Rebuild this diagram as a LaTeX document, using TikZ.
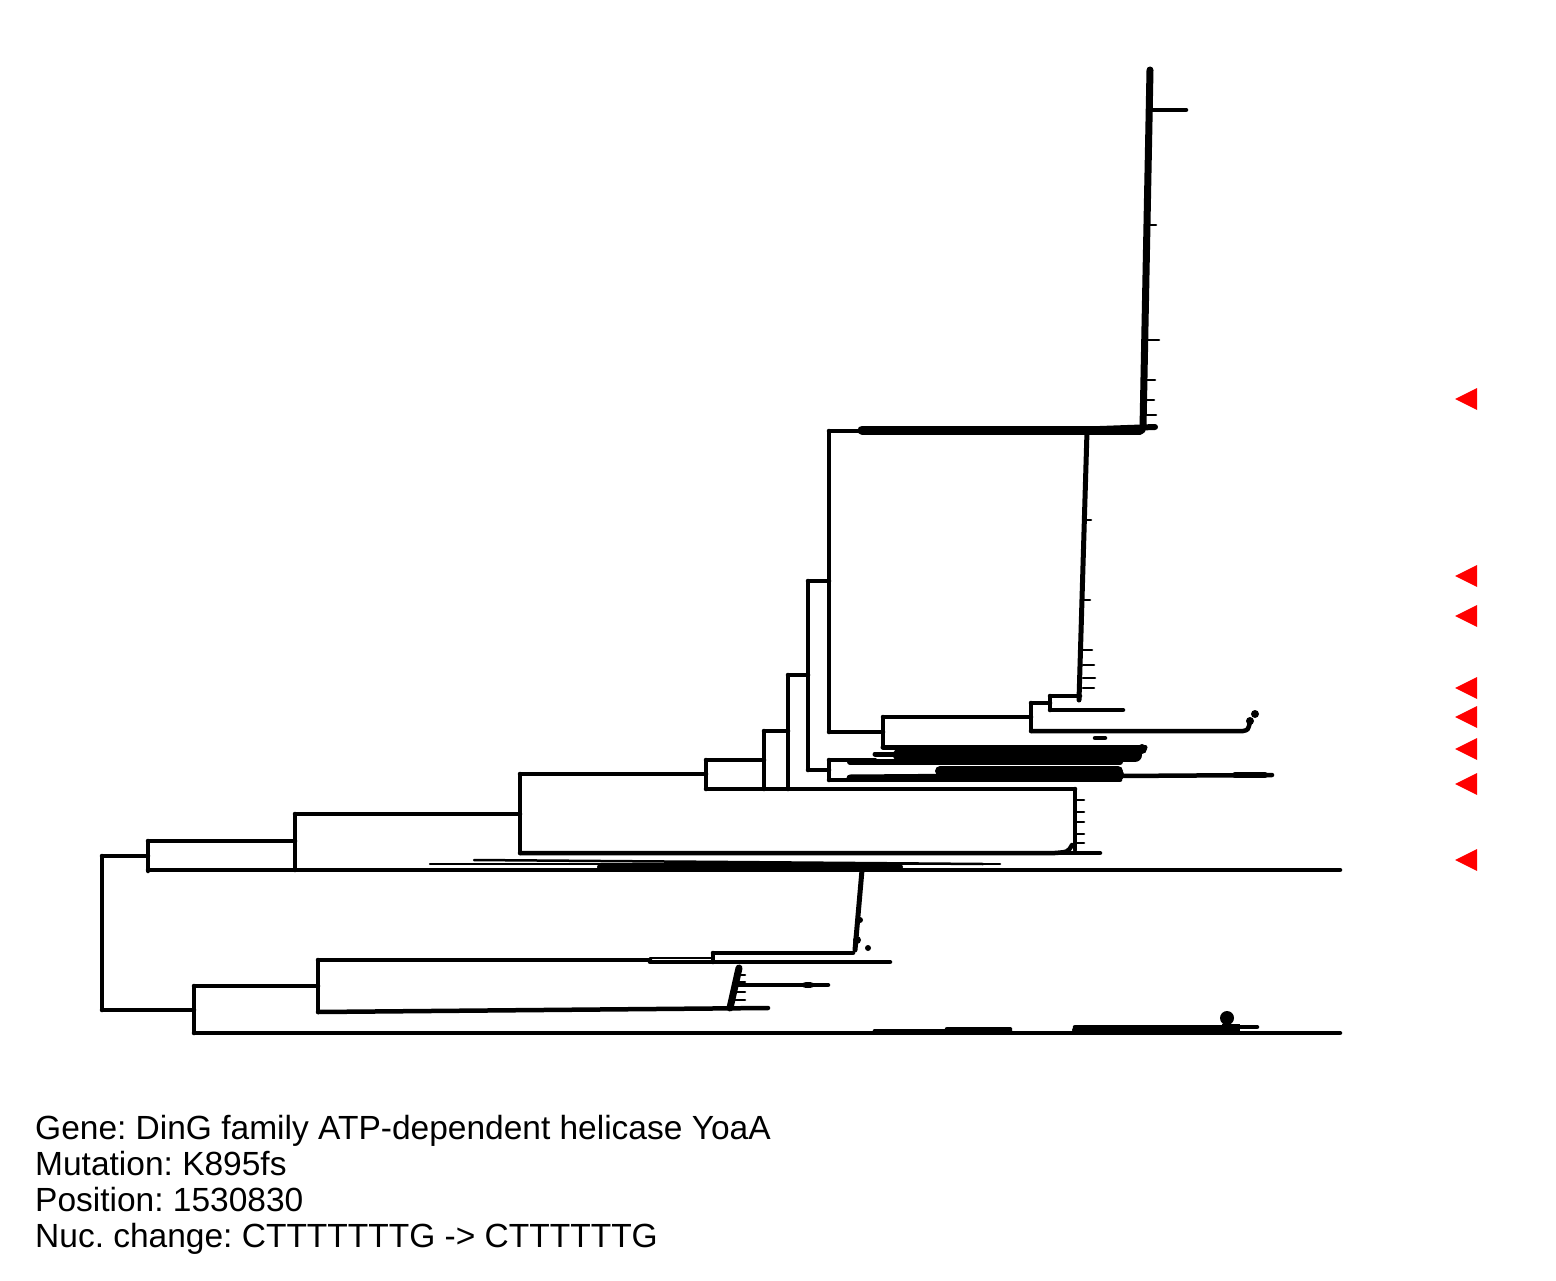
\documentclass[tikz,border=0pt]{standalone}
\usepackage{fontspec}
\setmainfont{Liberation Sans}
\frenchspacing
\begin{document}
\begin{tikzpicture}[x=1pt,y=-1pt,
  br/.style={line width=4.5pt,line cap=round,line join=miter},
  thin br/.style={line width=2.5pt,line cap=round},
  bundle/.style={line width=#1,line cap=round},
  mark tri/.style={fill=red,draw=none},
  info/.style={anchor=base west,inner sep=0pt,font=\fontsize{33.5}{36}\selectfont}]
\useasboundingbox (0,0) rectangle (1556,1281);
% ---------- upper clade ----------
\draw[br] (102,856) -- (102,1010);
\draw[br] (102,856) -- (148,856);
\draw[br] (148,841) -- (148,871);
\draw[br] (148,841) -- (295,841);
\draw[br] (295,814) -- (295,870);
\draw[br] (148,870) -- (1340,870);
\draw[thin br] (430,864) -- (1000,864);
\draw[thin br] (474,860) -- (983,864);
\draw[bundle=6pt] (600,867) -- (900,867);
\draw[br] (295,814) -- (520,814);
\draw[br] (520,774) -- (520,853);
\draw[br] (520,853) -- (1055,853) .. controls (1068,852) .. (1072,845);
\draw[br] (1055,853) -- (1100,853);
\draw[br] (520,774) -- (706,774);
\draw[br] (706,760) -- (706,789);
\draw[br] (706,789) -- (1075,789);
\draw[br] (1075,789) -- (1075,850);
\foreach \yy in {800,812,822,834,843} \draw[thin br] (1075,\yy) -- (1084,\yy);
\draw[br] (706,760) -- (764,760);
\draw[br] (764,731) -- (764,789);
\draw[br] (764,731) -- (788,731);
\draw[br] (788,675) -- (788,789);
\draw[br] (788,675) -- (808,675);
\draw[br] (808,581) -- (808,770);
\draw[br] (808,581) -- (829,581);
\draw[br] (829,431) -- (829,732);
% big top clade
\draw[br] (829,431) -- (1143,431);
\draw[bundle=9pt] (862,430) -- (1140,430);
\draw[bundle=6pt] (1100,429) -- (1155,427);
\draw[bundle=7pt] (1143,428) -- (1150,70);
\draw[br] (1151,110) -- (1186,110);
\foreach \yy/\xx in {225/1156,340/1159,380/1155,400/1154,415/1156} \draw[thin br] (1147,\yy) -- (\xx,\yy);
\draw[bundle=5pt] (1087,431) -- (1079,700);
\foreach \yy/\xx in {520/1091,600/1090,650/1092,665/1094,678/1095,688/1094} \draw[thin br] (1083,\yy) -- (\xx,\yy);
\draw[br] (829,732) -- (883,732);
\draw[br] (883,717) -- (883,747);
\draw[br] (883,717) -- (1031,717);
\draw[br] (1031,703) -- (1031,731);
\draw[br] (1031,703) -- (1050,703);
\draw[br] (1050,696) -- (1050,710);
\draw[br] (1050,696) -- (1080,696);
\draw[br] (1050,710) -- (1123,710);
\draw[br] (1031,731) -- (1243,731) .. controls (1248,730) .. (1250,722);
\fill (1250,721) circle (4pt) (1255,714) circle (4pt);
% dense bundles
\draw[bundle=5pt] (883,747) -- (1145,747);
\draw[bundle=14pt] (900,755) -- (1135,755);
\draw[bundle=5pt] (875,754) -- (910,754);
\fill (1142,749) circle (5pt);
\draw[br] (808,770) -- (829,770);
\draw[br] (829,760) -- (829,780);
\draw[br] (829,760) -- (875,760);
\draw[bundle=6pt] (850,762) -- (1120,762);
\draw[br] (829,780) -- (1120,780);
\draw[bundle=7pt] (850,778) -- (1120,776);
\draw[bundle=10pt] (940,771) -- (1118,771);
\fill (1118,775) circle (6pt);
\draw[br] (1120,776) -- (1272,775);
\draw[bundle=6pt] (1235,775) -- (1265,775);
\draw[br] (1095,738) -- (1105,738);
% ---------- lower clade ----------
\draw[br] (102,1010) -- (194,1010);
\draw[br] (194,986) -- (194,1033);
\draw[br] (194,986) -- (318,986);
\draw[br] (318,960) -- (318,1012);
\draw[br] (318,960) -- (650,960);
\draw[thin br] (650,958) -- (713,958);
\draw[br] (650,962) -- (890,962);
\draw[br] (713,953) -- (853,953);
\draw[br] (713,953) -- (713,962);
\draw[bundle=5pt] (855,950) -- (862,870);
\fill (857,940) circle (4pt) (868,948) circle (3pt) (860,920) circle (3pt);
\draw[br] (318,1012) -- (768,1008);
\draw[bundle=7pt] (739,968) -- (730,1008);
\foreach \yy in {975,982,992,1000} \draw[thin br] (735,\yy) -- (745,\yy);
\draw[br] (735,985) -- (828,985);
\fill (808,985) ellipse (7pt and 3pt);
\draw[br] (194,1033) -- (1340,1033);
\draw[thin br] (670,1032) -- (840,1032);
\draw[bundle=5pt] (875,1031) -- (1010,1031);
\draw[br] (947,1029) -- (1010,1029);
\draw[br] (1075,1027) -- (1257,1027);
\draw[bundle=6pt] (1075,1030) -- (1230,1030);
\fill (1227,1018) circle (7pt);
\fill (1222,1024) rectangle (1240,1032);
% ---------- markers ----------
\foreach \yy in {399,576,616,688,717,749,784,860}
  \fill[mark tri] (1455,\yy) -- (1477,\yy-11) -- (1477,\yy+11) -- cycle;
% ---------- text ----------
\node[info] (gene) at (35,1139) {Gene: DinG family ATP-dependent helicase YoaA};
\node[info] (mut) at (35,1175) {Mutation: K895fs};
\node[info] (pos) at (35,1211) {Position: 1530830};
\node[info] (nuc) at (35,1247) {Nuc. change: CTTTTTTTG -> CTTTTTTG};
\end{tikzpicture}
\end{document}
